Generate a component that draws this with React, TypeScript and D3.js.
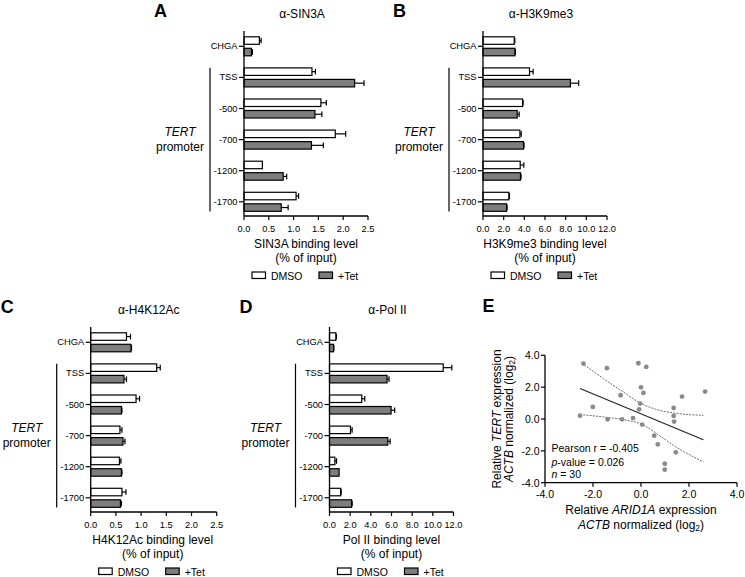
import React from "react";
import * as d3 from "d3";

const categories = ["CHGA", "TSS", "-500", "-700", "-1200", "-1700"];

const sin3aDmso = [0.31, 1.37, 1.55, 1.84, 0.37, 1.05];
const sin3aDmsoErr = [0.035, 0.07, 0.11, 0.21, 0, 0.05];
const sin3aTet = [0.15, 2.23, 1.43, 1.36, 0.79, 0.75];
const sin3aTetErr = [0.02, 0.19, 0.14, 0.24, 0.07, 0.14];

const h3k9Dmso = [3.02, 4.5, 3.83, 3.57, 3.6, 2.5];
const h3k9DmsoErr = [0.06, 0.35, 0.05, 0.13, 0.35, 0.06];
const h3k9Tet = [3.09, 8.46, 3.31, 3.92, 3.63, 2.28];
const h3k9TetErr = [0.05, 0.8, 0.19, 0.05, 0.05, 0.05];

const h4k12Dmso = [0.71, 1.31, 0.9, 0.58, 0.57, 0.62];
const h4k12DmsoErr = [0.08, 0.07, 0.07, 0.04, 0.03, 0.08];
const h4k12Tet = [0.8, 0.66, 0.61, 0.64, 0.61, 0.59];
const h4k12TetErr = [0.01, 0.05, 0.01, 0.04, 0.01, 0.02];

const pol2Dmso = [0.61, 11.0, 3.12, 2.03, 0.52, 1.08];
const pol2DmsoErr = [0.06, 0.84, 0.29, 0.16, 0.16, 0.05];
const pol2Tet = [0.39, 5.57, 5.96, 5.64, 0.93, 2.14];
const pol2TetErr = [0.03, 0.19, 0.35, 0.23, 0, 0.05];

const ticksSmall = [0, 0.5, 1, 1.5, 2, 2.5];
const ticksLarge = [0, 2, 4, 6, 8, 10, 12];

const arid1a = [-2.4, -1.42, -0.11, 0.22, 0.0, 0.1, -0.85, 2.67, 1.71, -2.01, -0.03, -0.08, 1.36, 1.36, 1.38, -2.54, -1.39, -0.79, -0.33, 0.05, 0.55, 0.7, 1.45, 0.99, 0.99];
const tert = [3.48, 3.19, 3.5, 3.27, 1.99, 1.64, 1.49, 1.72, 1.41, 0.76, 0.97, 0.61, 0.69, 0.19, -0.16, 0.21, -0.02, -0.02, 0.06, -0.35, -1.05, -1.59, -2.09, -2.81, -3.18];

const fitX = [-2.54, 2.6];
const fitY = [1.91, -1.3];
const upperX = [-2.47, -1.57, -0.74, -0.04, 0.66, 1.35, 2.6];
const upperY = [3.52, 2.54, 1.7, 1.01, 0.59, 0.38, 0.23];
const lowerX = [-2.54, -1.57, -0.74, 0.03, 0.66, 1.35, 2.6];
const lowerY = [0.28, 0.13, -0.04, -0.33, -0.92, -1.65, -2.7];
const scatterTicks = [-4, -2, 0, 2, 4];

const FONT = "'Liberation Sans', Arial, Helvetica, sans-serif";
const GRAY = "#7d7d7d";

type PanelProps = {
  letter: string;
  title: string;
  x0: number;
  width: number;
  yTop: number;
  xMax: number;
  ticks: number[];
  dmso: number[];
  dmsoErr: number[];
  tet: number[];
  tetErr: number[];
  xTitle: string;
};

function BarPanel(p: PanelProps) {
  const x = d3.scaleLinear().domain([0, p.xMax]).range([p.x0, p.x0 + p.width]);
  const axisY = p.yTop + 185;
  const y = d3
    .scaleBand<string>()
    .domain(categories)
    .range([p.yTop - 0.25, p.yTop - 0.25 + 6 * 31.1]);
  const barH = 7.5;
  const bars: React.ReactNode[] = [];
  categories.forEach((c, i) => {
    const cy = (y(c) as number) + y.bandwidth() / 2;
    const series = [
      { v: p.dmso[i], e: p.dmsoErr[i], fill: "#ffffff", top: cy - 9.5 },
      { v: p.tet[i], e: p.tetErr[i], fill: GRAY, top: cy + 2 },
    ];
    series.forEach((s, j) => {
      const mid = s.top + barH / 2;
      bars.push(
        <g key={c + j}>
          {s.e > 0 && (
            <g stroke="#000" strokeWidth={1.2}>
              <line x1={x(s.v)} x2={x(s.v + s.e)} y1={mid} y2={mid} />
              <line x1={x(s.v + s.e)} x2={x(s.v + s.e)} y1={mid - 2.8} y2={mid + 2.8} />
            </g>
          )}
          <rect
            x={x(0)}
            y={s.top}
            width={x(s.v) - x(0)}
            height={barH}
            fill={s.fill}
            stroke="#000"
            strokeWidth={1.2}
          />
        </g>
      );
    });
  });
  const cTSS = (y("TSS") as number) + y.bandwidth() / 2;
  const c1700 = (y("-1700") as number) + y.bandwidth() / 2;
  const bracketMid = (cTSS - 9.7 + c1700 + 9.7) / 2;
  return (
    <g fontFamily={FONT}>
      <text x={p.x0 - 90} y={p.yTop - 14.5} fontSize={18} fontWeight="bold" fill="#000">
        {p.letter}
      </text>
      <text x={p.x0 + 58} y={p.yTop - 17.5} fontSize={12} textAnchor="middle" dominantBaseline="central">
        {"\u03b1-" + p.title}
      </text>
      {bars}
      {/* y axis */}
      <line x1={p.x0} x2={p.x0} y1={p.yTop} y2={axisY} stroke="#000" strokeWidth={1.3} />
      {categories.map((c) => {
        const cy = (y(c) as number) + y.bandwidth() / 2;
        return (
          <g key={c}>
            <line x1={p.x0 - 5} x2={p.x0} y1={cy} y2={cy} stroke="#000" strokeWidth={1.2} />
            <text x={p.x0 - 6.5} y={cy} fontSize={9.3} textAnchor="end" dominantBaseline="central">
              {c}
            </text>
          </g>
        );
      })}
      {/* x axis */}
      <line x1={p.x0} x2={p.x0 + p.width} y1={axisY} y2={axisY} stroke="#000" strokeWidth={1.3} />
      {p.ticks.map((t) => (
        <g key={t}>
          <line x1={x(t)} x2={x(t)} y1={axisY} y2={axisY + 4} stroke="#000" strokeWidth={1.2} />
          <text x={x(t)} y={axisY + 12.5} fontSize={9.3} textAnchor="middle" dominantBaseline="central">
            {t.toFixed(1)}
          </text>
        </g>
      ))}
      <text x={p.x0 + 62} y={axisY + 27.5} fontSize={12} textAnchor="middle" dominantBaseline="central">
        {p.xTitle}
      </text>
      <text x={p.x0 + 62} y={axisY + 42} fontSize={12} textAnchor="middle" dominantBaseline="central">
        (% of input)
      </text>
      {/* TERT promoter bracket */}
      <line x1={p.x0 - 34} x2={p.x0 - 34} y1={cTSS - 9.7} y2={c1700 + 9.7} stroke="#000" strokeWidth={1.2} />
      <text x={p.x0 - 64} y={bracketMid - 8} fontSize={12} fontStyle="italic" textAnchor="middle" dominantBaseline="central">
        TERT
      </text>
      <text x={p.x0 - 64} y={bracketMid + 7} fontSize={12} textAnchor="middle" dominantBaseline="central">
        promoter
      </text>
      {/* legend */}
      <rect x={p.x0 + 8} y={axisY + 56} width={13.5} height={6.5} fill="#fff" stroke="#000" strokeWidth={1.2} />
      <text x={p.x0 + 27} y={axisY + 59.5} fontSize={10.5} dominantBaseline="central">
        DMSO
      </text>
      <rect x={p.x0 + 75} y={axisY + 56} width={13.5} height={6.5} fill={GRAY} stroke="#000" strokeWidth={1.2} />
      <text x={p.x0 + 94} y={axisY + 59.5} fontSize={10.5} dominantBaseline="central">
        +Tet
      </text>
    </g>
  );
}

function ScatterPanel() {
  const x = d3.scaleLinear().domain([-4, 4]).range([545, 737]);
  const y = d3.scaleLinear().domain([-4, 4]).range([482.7, 355.3]);
  const line = d3
    .line<[number, number]>()
    .x((d) => x(d[0]))
    .y((d) => y(d[1]));
  const curve = d3
    .line<[number, number]>()
    .x((d) => x(d[0]))
    .y((d) => y(d[1]))
    .curve(d3.curveMonotoneX);
  const fit = fitX.map((v, i) => [v, fitY[i]] as [number, number]);
  const up = upperX.map((v, i) => [v, upperY[i]] as [number, number]);
  const lo = lowerX.map((v, i) => [v, lowerY[i]] as [number, number]);
  const x0 = x(-4);
  const y0 = y(-4);
  return (
    <g fontFamily={FONT}>
      <text x={482.5} y={312} fontSize={18} fontWeight="bold">
        E
      </text>
      <path d={curve(up) || ""} fill="none" stroke="#444" strokeWidth={0.8} strokeDasharray="2,1.2" />
      <path d={curve(lo) || ""} fill="none" stroke="#444" strokeWidth={0.8} strokeDasharray="2,1.2" />
      <path d={line(fit) || ""} fill="none" stroke="#222" strokeWidth={1.1} />
      {arid1a.map((v, i) => (
        <circle key={i} cx={x(v)} cy={y(tert[i])} r={2.4} fill="#8a8a8a" />
      ))}
      <line x1={x0} x2={x0} y1={y(4)} y2={y0} stroke="#000" strokeWidth={1.3} />
      <line x1={x0} x2={x(4)} y1={y0} y2={y0} stroke="#000" strokeWidth={1.3} />
      {scatterTicks.map((t) => (
        <g key={"x" + t}>
          <line x1={x(t)} x2={x(t)} y1={y0} y2={y0 + 4} stroke="#000" strokeWidth={1.2} />
          <text x={x(t)} y={y0 + 11.5} fontSize={10.5} textAnchor="middle" dominantBaseline="central">
            {t.toFixed(1)}
          </text>
        </g>
      ))}
      {scatterTicks.map((t) => (
        <g key={"y" + t}>
          <line x1={x0 - 4} x2={x0} y1={y(t)} y2={y(t)} stroke="#000" strokeWidth={1.2} />
          <text x={x0 - 5.5} y={y(t)} fontSize={10.5} textAnchor="end" dominantBaseline="central">
            {t.toFixed(1)}
          </text>
        </g>
      ))}
      <text x={641} y={510} fontSize={12} textAnchor="middle" dominantBaseline="central">
        Relative <tspan fontStyle="italic">ARID1A</tspan> expression
      </text>
      <text x={641} y={525} fontSize={12} textAnchor="middle" dominantBaseline="central">
        <tspan fontStyle="italic">ACTB</tspan> normalized (log
        <tspan fontSize={8.5} dy={3}>2</tspan>
        <tspan dy={-3}>)</tspan>
      </text>
      <g transform="translate(496.5,419) rotate(-90)">
        <text x={0} y={0} fontSize={12} textAnchor="middle" dominantBaseline="central">
          Relative <tspan fontStyle="italic">TERT</tspan> expression
        </text>
      </g>
      <g transform="translate(509,419) rotate(-90)">
        <text x={0} y={0} fontSize={12} textAnchor="middle" dominantBaseline="central">
          <tspan fontStyle="italic">ACTB</tspan> normalized (log
          <tspan fontSize={8.5} dy={3}>2</tspan>
          <tspan dy={-3}>)</tspan>
        </text>
      </g>
      <text x={551.5} y={448.3} fontSize={10.5} dominantBaseline="central">
        Pearson r = -0.405
      </text>
      <text x={551.5} y={461.5} fontSize={10.5} dominantBaseline="central">
        <tspan fontStyle="italic">p</tspan>-value = 0.026
      </text>
      <text x={551.5} y={474.3} fontSize={10.5} dominantBaseline="central">
        <tspan fontStyle="italic">n</tspan> = 30
      </text>
    </g>
  );
}

export default function App() {
  return (
    <svg
      width={745}
      height={577}
      viewBox="0 0 745 577"
      style={{ position: "absolute", left: 0, top: 0, background: "#fff" }}
    >
      <rect x={0} y={0} width={745} height={577} fill="#fff" />
      <BarPanel
        letter="A"
        title="SIN3A"
        x0={244}
        width={124}
        yTop={31}
        xMax={2.5}
        ticks={ticksSmall}
        dmso={sin3aDmso}
        dmsoErr={sin3aDmsoErr}
        tet={sin3aTet}
        tetErr={sin3aTetErr}
        xTitle="SIN3A binding level"
      />
      <BarPanel
        letter="B"
        title="H3K9me3"
        x0={483}
        width={124}
        yTop={31}
        xMax={12}
        ticks={ticksLarge}
        dmso={h3k9Dmso}
        dmsoErr={h3k9DmsoErr}
        tet={h3k9Tet}
        tetErr={h3k9TetErr}
        xTitle="H3K9me3 binding level"
      />
      <BarPanel
        letter="C"
        title="H4K12Ac"
        x0={90.7}
        width={126}
        yTop={327}
        xMax={2.5}
        ticks={ticksSmall}
        dmso={h4k12Dmso}
        dmsoErr={h4k12DmsoErr}
        tet={h4k12Tet}
        tetErr={h4k12TetErr}
        xTitle="H4K12Ac binding level"
      />
      <BarPanel
        letter="D"
        title="Pol II"
        x0={329.5}
        width={124}
        yTop={327}
        xMax={12}
        ticks={ticksLarge}
        dmso={pol2Dmso}
        dmsoErr={pol2DmsoErr}
        tet={pol2Tet}
        tetErr={pol2TetErr}
        xTitle="Pol II binding level"
      />
      <ScatterPanel />
    </svg>
  );
}
